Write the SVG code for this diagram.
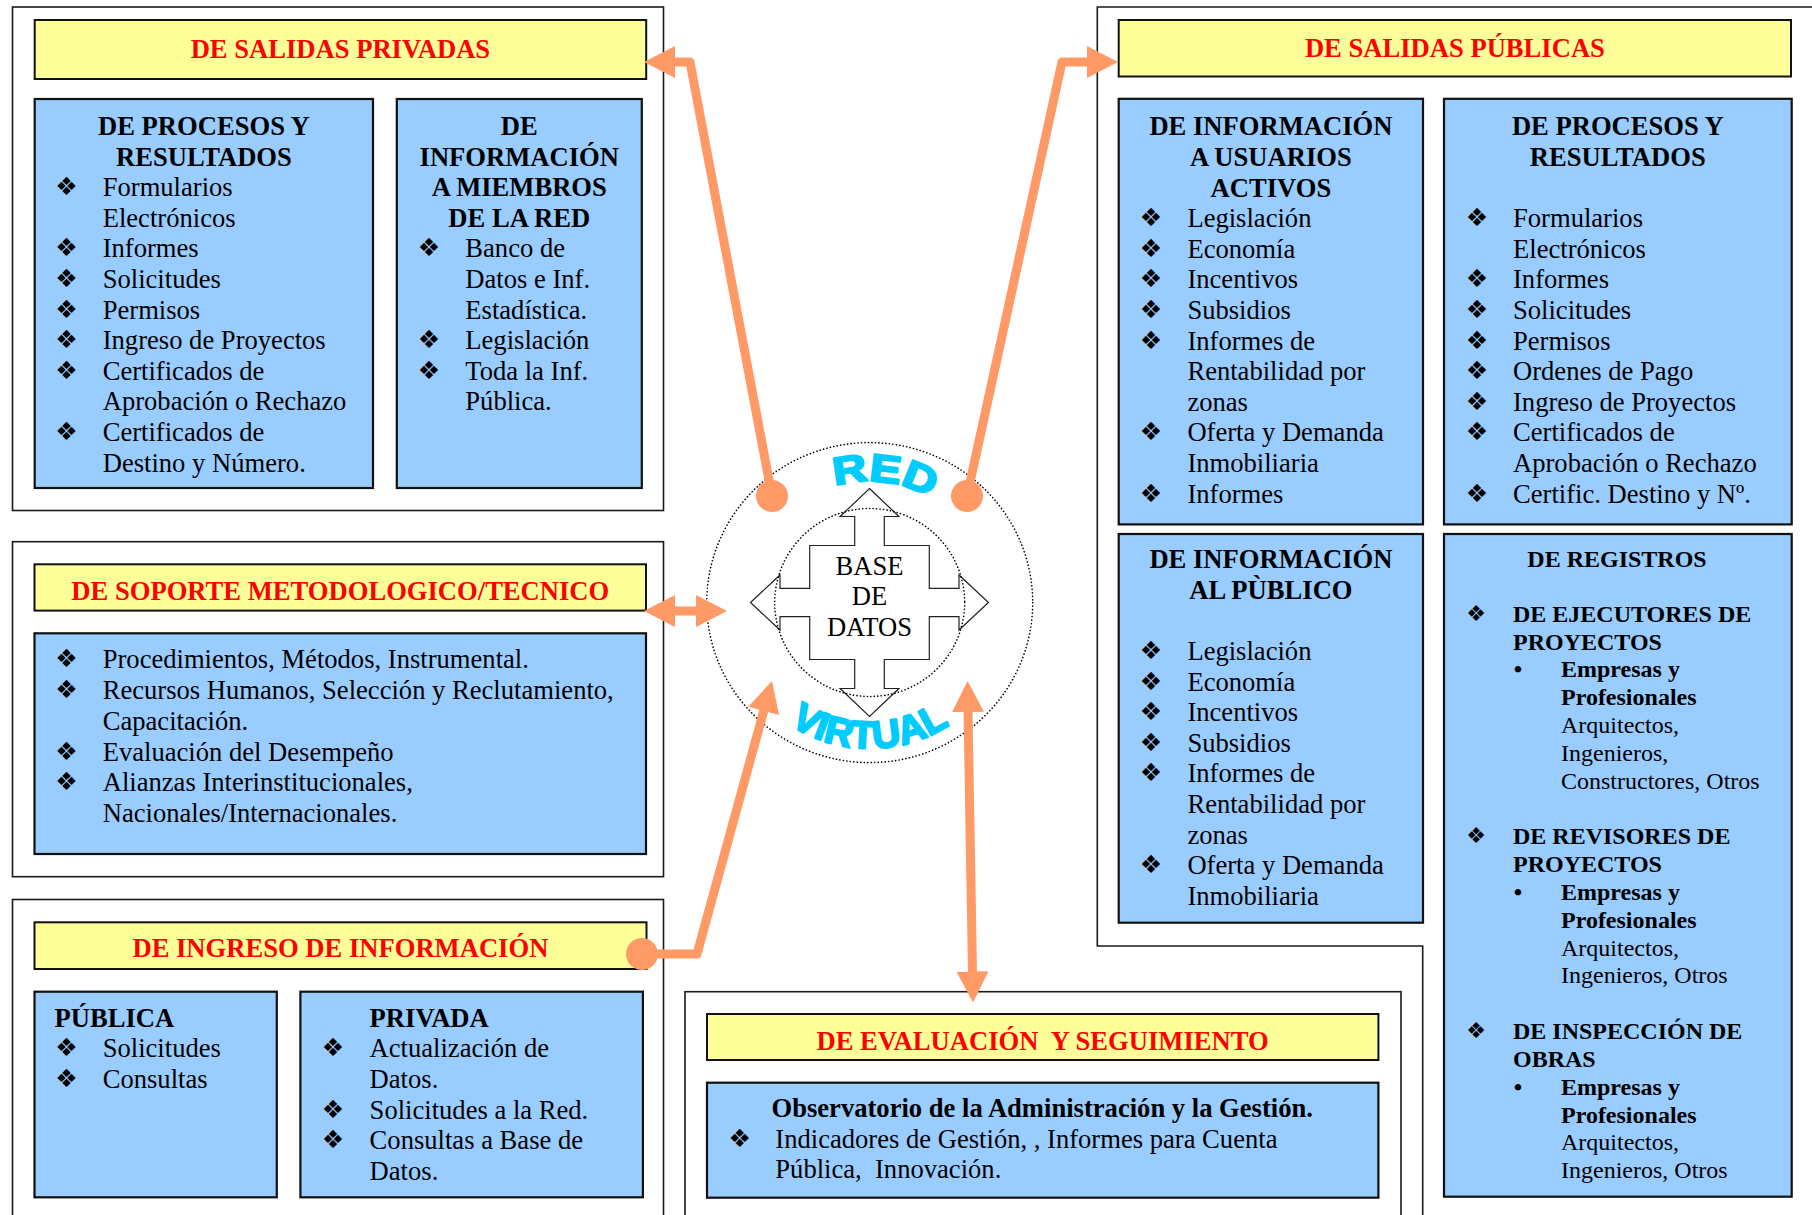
<svg xmlns="http://www.w3.org/2000/svg" width="1812" height="1215" viewBox="0 0 1812 1215">
<defs>
<style>
.ob{fill:none;stroke:#1a1a1a;stroke-width:1.6}
.yb{fill:#FFFF99;stroke:#111;stroke-width:2}
.bb{fill:#99CCFF;stroke:#111;stroke-width:2.2}
text{font-family:"Liberation Serif","Times New Roman",serif;font-size:26.6px;fill:#000}
.b{font-weight:bold}
.c{text-anchor:middle}
.h{font-weight:bold;fill:#FF0000;text-anchor:middle}
.bu{font-family:"DejaVu Sans",sans-serif;font-size:25px;text-anchor:middle}
.s{font-size:24px}
.sb{font-size:22px}
.dot{font-size:24px;font-weight:bold;text-anchor:middle}
.con{fill:none;stroke:#FF9966;stroke-width:9;stroke-linejoin:round}
.cy{font-family:"Liberation Sans",Arial,sans-serif;font-weight:bold;font-size:39px;fill:#00CCFF;stroke:#00CCFF;stroke-width:2.2;stroke-linejoin:round}
.dc{fill:none;stroke:#000;stroke-width:1.6;stroke-dasharray:0.1 3.4;stroke-linecap:round}
</style>
<marker id="ah" markerUnits="userSpaceOnUse" markerWidth="32" markerHeight="32" viewBox="0 0 32 32" refX="1" refY="16" orient="auto-start-reverse">
<path d="M0,0 L31,16 L0,32 Z" fill="#FF9966"/>
</marker>
<path id="arcTop" d="M748.5,602.5 A121,121 0 0 1 990.5,602.5"/>
<path id="arcBot" d="M723.5,602.5 A146,146 0 0 0 1015.5,602.5"/>
</defs>
<rect width="1812" height="1215" fill="#fff"/>

<g id="salidas-privadas">
<rect class="ob" x="12.5" y="7" width="651" height="503.5"/>
<rect class="yb" x="34.7" y="20" width="611.5" height="59"/>
<text class="h" x="340.4" y="57.5">DE SALIDAS PRIVADAS</text>
</g>
<g id="procesos-privados">
<rect class="bb" x="34.7" y="99" width="338.3" height="389"/>
<text class="b c" x="203.9" y="135">DE PROCESOS Y</text>
<text class="b c" x="203.9" y="165.6">RESULTADOS</text>
<text class="bu" x="66.5" y="195">❖</text><text x="102.7" y="196.2">Formularios</text>
<text x="102.7" y="226.8">Electrónicos</text>
<text class="bu" x="66.5" y="256.4">❖</text><text x="102.7" y="257.4">Informes</text>
<text class="bu" x="66.5" y="287">❖</text><text x="102.7" y="288">Solicitudes</text>
<text class="bu" x="66.5" y="317.6">❖</text><text x="102.7" y="318.6">Permisos</text>
<text class="bu" x="66.5" y="348.2">❖</text><text x="102.7" y="349.2">Ingreso de Proyectos</text>
<text class="bu" x="66.5" y="378.8">❖</text><text x="102.7" y="379.8">Certificados de</text>
<text x="102.7" y="410.4">Aprobación o Rechazo</text>
<text class="bu" x="66.5" y="440">❖</text><text x="102.7" y="441">Certificados de</text>
<text x="102.7" y="471.6">Destino y Número.</text>
</g>
<g id="info-miembros">
<rect class="bb" x="396.8" y="99" width="245" height="389"/>
<text class="b c" x="519.3" y="135">DE</text>
<text class="b c" x="519.3" y="165.6">INFORMACIÓN</text>
<text class="b c" x="519.3" y="196.2">A MIEMBROS</text>
<text class="b c" x="519.3" y="226.8">DE LA RED</text>
<text class="bu" x="429" y="256.4">❖</text><text x="465.3" y="257.4">Banco de</text>
<text x="465.3" y="288">Datos e Inf.</text>
<text x="465.3" y="318.6">Estadística.</text>
<text class="bu" x="429" y="348.2">❖</text><text x="465.3" y="349.2">Legislación</text>
<text class="bu" x="429" y="378.8">❖</text><text x="465.3" y="379.8">Toda la Inf.</text>
<text x="465.3" y="410.4">Pública.</text>
</g>

<g id="soporte">
<rect class="ob" x="12.5" y="541.7" width="651" height="335"/>
<rect class="yb" x="34.5" y="564.3" width="611.5" height="46.3"/>
<text class="h" x="340.3" y="600">DE SOPORTE METODOLOGICO/TECNICO</text>
<rect class="bb" x="34.5" y="633.3" width="611.5" height="220.7"/>
<text class="bu" x="66.5" y="667.3">❖</text><text x="102.7" y="668.3">Procedimientos, Métodos, Instrumental.</text>
<text class="bu" x="66.5" y="698.3">❖</text><text x="102.7" y="699.3">Recursos Humanos, Selección y Reclutamiento,</text>
<text x="102.7" y="730">Capacitación.</text>
<text class="bu" x="66.5" y="759.7">❖</text><text x="102.7" y="760.7">Evaluación del Desempeño</text>
<text class="bu" x="66.5" y="789.7">❖</text><text x="102.7" y="790.7">Alianzas Interinstitucionales,</text>
<text x="102.7" y="821.7">Nacionales/Internacionales.</text>
</g>

<g id="ingreso">
<rect class="ob" x="12.5" y="899.5" width="651" height="400"/>
<rect class="yb" x="34.5" y="922.3" width="612" height="46.7"/>
<text class="h" x="340.4" y="957.3">DE INGRESO DE INFORMACIÓN</text>
</g>
<g id="ingreso-publica">
<rect class="bb" x="34.5" y="991.7" width="242.3" height="205.6"/>
<text class="b" x="54.5" y="1026.7">PÚBLICA</text>
<text class="bu" x="66.5" y="1056.3">❖</text><text x="102.7" y="1057.3">Solicitudes</text>
<text class="bu" x="66.5" y="1086.9">❖</text><text x="102.7" y="1087.9">Consultas</text>
</g>
<g id="ingreso-privada">
<rect class="bb" x="300.4" y="991.7" width="342.5" height="205.6"/>
<text class="b" x="369.6" y="1026.7">PRIVADA</text>
<text class="bu" x="333" y="1056.3">❖</text><text x="369.6" y="1057.3">Actualización de</text>
<text x="369.6" y="1087.9">Datos.</text>
<text class="bu" x="333" y="1117.5">❖</text><text x="369.6" y="1118.5">Solicitudes a la Red.</text>
<text class="bu" x="333" y="1148.1">❖</text><text x="369.6" y="1149.1">Consultas a Base de</text>
<text x="369.6" y="1179.7">Datos.</text>
</g>

<g id="evaluacion">
<rect class="ob" x="685" y="991.7" width="716" height="300"/>
<rect class="yb" x="707" y="1014" width="671.4" height="46"/>
<text class="h" x="1042.6" y="1050" style="white-space:pre">DE EVALUACIÓN  Y SEGUIMIENTO</text>
<rect class="bb" x="707" y="1082.7" width="671.4" height="115"/>
<text class="b c" x="1042.2" y="1116.7">Observatorio de la Administración y la Gestión.</text>
<text class="bu" x="739.7" y="1147.3">❖</text><text x="775.3" y="1148.3">Indicadores de Gestión, , Informes para Cuenta</text>
<text x="775.3" y="1178.3" style="white-space:pre">Pública,  Innovación.</text>
</g>

<g id="salidas-publicas">
<path class="ob" d="M1830,7 H1097.3 V946 H1422.7 V1230"/>
<rect class="yb" x="1118.7" y="20" width="672.3" height="56.5"/>
<text class="h" x="1454.9" y="57">DE SALIDAS PÚBLICAS</text>
</g>
<g id="info-usuarios">
<rect class="bb" x="1118.7" y="98.8" width="304.3" height="425.6"/>
<text class="b c" x="1270.9" y="135.3">DE INFORMACIÓN</text>
<text class="b c" x="1270.9" y="165.9">A USUARIOS</text>
<text class="b c" x="1270.9" y="196.5">ACTIVOS</text>
<text class="bu" x="1151" y="226.1">❖</text><text x="1187.4" y="227.1">Legislación</text>
<text class="bu" x="1151" y="256.7">❖</text><text x="1187.4" y="257.7">Economía</text>
<text class="bu" x="1151" y="287.3">❖</text><text x="1187.4" y="288.3">Incentivos</text>
<text class="bu" x="1151" y="317.9">❖</text><text x="1187.4" y="318.9">Subsidios</text>
<text class="bu" x="1151" y="348.5">❖</text><text x="1187.4" y="349.5">Informes de</text>
<text x="1187.4" y="380.1">Rentabilidad por</text>
<text x="1187.4" y="410.7">zonas</text>
<text class="bu" x="1151" y="440.3">❖</text><text x="1187.4" y="441.3">Oferta y Demanda</text>
<text x="1187.4" y="471.9">Inmobiliaria</text>
<text class="bu" x="1151" y="501.5">❖</text><text x="1187.4" y="502.5">Informes</text>
</g>
<g id="procesos-publicos">
<rect class="bb" x="1444" y="98.8" width="347.7" height="425.6"/>
<text class="b c" x="1617.8" y="135.3">DE PROCESOS Y</text>
<text class="b c" x="1617.8" y="165.9">RESULTADOS</text>
<text class="bu" x="1477" y="226.1">❖</text><text x="1513" y="227.1">Formularios</text>
<text x="1513" y="257.7">Electrónicos</text>
<text class="bu" x="1477" y="287.3">❖</text><text x="1513" y="288.3">Informes</text>
<text class="bu" x="1477" y="317.9">❖</text><text x="1513" y="318.9">Solicitudes</text>
<text class="bu" x="1477" y="348.5">❖</text><text x="1513" y="349.5">Permisos</text>
<text class="bu" x="1477" y="379.1">❖</text><text x="1513" y="380.1">Ordenes de Pago</text>
<text class="bu" x="1477" y="409.7">❖</text><text x="1513" y="410.7">Ingreso de Proyectos</text>
<text class="bu" x="1477" y="440.3">❖</text><text x="1513" y="441.3">Certificados de</text>
<text x="1513" y="471.9">Aprobación o Rechazo</text>
<text class="bu" x="1477" y="501.5">❖</text><text x="1513" y="502.5">Certific. Destino y Nº.</text>
</g>
<g id="info-publico">
<rect class="bb" x="1118.7" y="534" width="304.3" height="388.7"/>
<text class="b c" x="1270.9" y="568.3">DE INFORMACIÓN</text>
<text class="b c" x="1270.9" y="598.9">AL PÙBLICO</text>
<text class="bu" x="1151" y="659">❖</text><text x="1187.4" y="660">Legislación</text>
<text class="bu" x="1151" y="689.6">❖</text><text x="1187.4" y="690.6">Economía</text>
<text class="bu" x="1151" y="720.2">❖</text><text x="1187.4" y="721.2">Incentivos</text>
<text class="bu" x="1151" y="750.8">❖</text><text x="1187.4" y="751.8">Subsidios</text>
<text class="bu" x="1151" y="781.4">❖</text><text x="1187.4" y="782.4">Informes de</text>
<text x="1187.4" y="813">Rentabilidad por</text>
<text x="1187.4" y="843.6">zonas</text>
<text class="bu" x="1151" y="873.2">❖</text><text x="1187.4" y="874.2">Oferta y Demanda</text>
<text x="1187.4" y="904.8">Inmobiliaria</text>
</g>
<g id="registros">
<rect class="bb" x="1444" y="534" width="347.7" height="662.7"/>
<text class="b c s" x="1617" y="566.7">DE REGISTROS</text>
<text class="bu sb" x="1476" y="620.7">❖</text><text class="b s" x="1513" y="621.7">DE EJECUTORES DE</text>
<text class="b s" x="1513" y="649.5">PROYECTOS</text>
<text class="dot" x="1518" y="677.4">•</text><text class="b s" x="1561" y="677.4">Empresas y</text>
<text class="b s" x="1561" y="705.2">Profesionales</text>
<text class="s" x="1561" y="733">Arquitectos,</text>
<text class="s" x="1561" y="760.9">Ingenieros,</text>
<text class="s" x="1561" y="788.7">Constructores, Otros</text>
<text class="bu sb" x="1476" y="843.3">❖</text><text class="b s" x="1513" y="844.3">DE REVISORES DE</text>
<text class="b s" x="1513" y="872.1">PROYECTOS</text>
<text class="dot" x="1518" y="899.9">•</text><text class="b s" x="1561" y="899.9">Empresas y</text>
<text class="b s" x="1561" y="927.8">Profesionales</text>
<text class="s" x="1561" y="955.6">Arquitectos,</text>
<text class="s" x="1561" y="983.4">Ingenieros, Otros</text>
<text class="bu sb" x="1476" y="1038">❖</text><text class="b s" x="1513" y="1039">DE INSPECCIÓN DE</text>
<text class="b s" x="1513" y="1066.8">OBRAS</text>
<text class="dot" x="1518" y="1094.6">•</text><text class="b s" x="1561" y="1094.6">Empresas y</text>
<text class="b s" x="1561" y="1122.5">Profesionales</text>
<text class="s" x="1561" y="1150.3">Arquitectos,</text>
<text class="s" x="1561" y="1178.1">Ingenieros, Otros</text>
</g>

<g id="red-virtual">
<ellipse class="dc" cx="869.7" cy="602.6" rx="163" ry="160"/>
<path d="M869.5,488.5 L898.9,516.5 L884.3,516.5 L884.3,545.5 L929.3,545.5 L929.3,588.3 L959,588.3 L959,575 L988.5,602.5 L959,630 L959,616.7 L929.3,616.7 L929.3,659.5 L884.3,659.5 L884.3,688.5 L898.9,688.5 L869.5,716.5 L840.1,688.5 L854.7,688.5 L854.7,659.5 L809.7,659.5 L809.7,616.7 L780,616.7 L780,630 L750.5,602.5 L780,575 L780,588.3 L809.7,588.3 L809.7,545.5 L854.7,545.5 L854.7,516.5 L840.1,516.5 Z" fill="#fff" stroke="#222" stroke-width="1.2"/>
<ellipse class="dc" cx="869.7" cy="602.5" rx="95" ry="94"/>
<text class="c" x="869.5" y="574.5">BASE</text>
<text class="c" x="869.5" y="605.3">DE</text>
<text class="c" x="869.5" y="636">DATOS</text>
<text class="cy"><textPath href="#arcTop" startOffset="155" textLength="99" lengthAdjust="spacingAndGlyphs">RED</textPath></text>
<text class="cy"><textPath href="#arcBot" startOffset="50%" text-anchor="middle">VIRTUAL</textPath></text>
</g>

<g id="connectors">
<path class="con" d="M772,496 L690,62 L674,62" marker-end="url(#ah)"/>
<circle cx="772" cy="496" r="16" fill="#FF9966"/>
<path class="con" d="M967,496 L1062,62 L1088,62" marker-end="url(#ah)"/>
<circle cx="967" cy="496" r="16" fill="#FF9966"/>
<path class="con" d="M674,611 L697,611" marker-start="url(#ah)" marker-end="url(#ah)"/>
<path class="con" d="M642,954 L697,954 L764,710" marker-end="url(#ah)"/>
<circle cx="642" cy="954" r="16" fill="#FF9966"/>
<path class="con" d="M968,711 L972.5,972.5" marker-start="url(#ah)" marker-end="url(#ah)"/>
</g>
</svg>
